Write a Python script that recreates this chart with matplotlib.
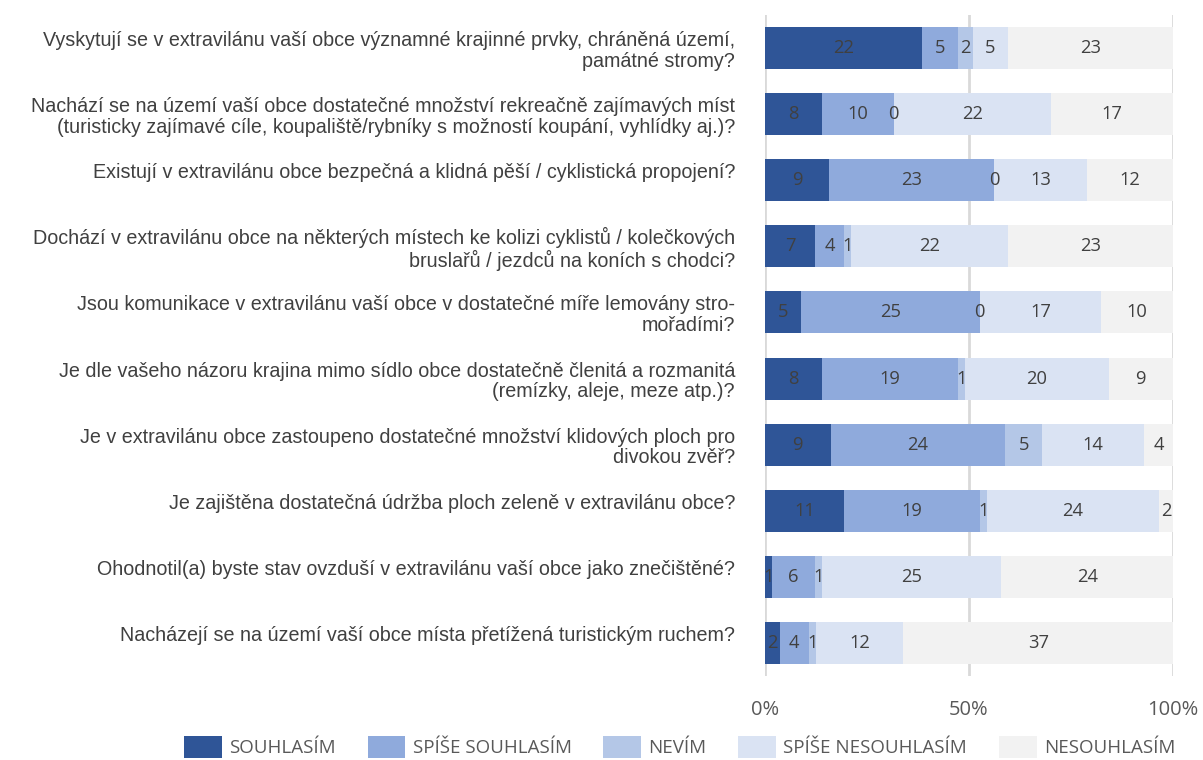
import numpy as np
import matplotlib
matplotlib.use("Agg")
import matplotlib.pyplot as plt
from matplotlib.patches import Patch

# otázky (shora dolů)
questions = [
    "Vyskytují se v extravilánu vaší obce významné krajinné prvky, chráněná území,\npamátné stromy?",
    "Nachází se na území vaší obce dostatečné množství rekreačně zajímavých míst\n(turisticky zajímavé cíle, koupaliště/rybníky s možností koupání, vyhlídky aj.)?",
    "Existují v extravilánu obce bezpečná a klidná pěší / cyklistická propojení?",
    "Dochází v extravilánu obce na některých místech ke kolizi cyklistů / kolečkových\nbruslařů / jezdců na koních s chodci?",
    "Jsou komunikace v extravilánu vaší obce v dostatečné míře lemovány stro-\nmořadími?",
    "Je dle vašeho názoru krajina mimo sídlo obce dostatečně členitá a rozmanitá\n(remízky, aleje, meze atp.)?",
    "Je v extravilánu obce zastoupeno dostatečné množství klidových ploch pro\ndivokou zvěř?",
    "Je zajištěna dostatečná údržba ploch zeleně v extravilánu obce?",
    "Ohodnotil(a) byste stav ovzduší v extravilánu vaší obce jako znečištěné?",
    "Nacházejí se na území vaší obce místa přetížená turistickým ruchem?",
]

souhlasim = [22, 8, 9, 7, 5, 8, 9, 11, 1, 2]
spise_souhlasim = [5, 10, 23, 4, 25, 19, 24, 19, 6, 4]
nevim = [2, 0, 0, 1, 0, 1, 5, 1, 1, 1]
spise_nesouhlasim = [5, 22, 13, 22, 17, 20, 14, 24, 25, 12]
nesouhlasim = [23, 17, 12, 23, 10, 9, 4, 2, 24, 37]

series_names = ["SOUHLASÍM", "SPÍŠE SOUHLASÍM", "NEVÍM", "SPÍŠE NESOUHLASÍM", "NESOUHLASÍM"]
colors = ["#2F5597", "#8FAADC", "#B4C7E7", "#DAE3F3", "#F2F2F2"]

label_font = ["Liberation Sans", "DejaVu Sans"]
num_font = ["Open Sans", "DejaVu Sans"]

data = np.array([souhlasim, spise_souhlasim, nevim, spise_nesouhlasim, nesouhlasim], dtype=float)
totals = data.sum(axis=0)
shares = data / totals

fig = plt.figure(figsize=(12.03, 7.6), dpi=100)
ax = fig.add_axes([0.6359, 0.1105, 0.3392, 0.8697])

y = np.arange(len(questions))
left = np.zeros(len(questions))
for k in range(len(series_names)):
    ax.barh(y, shares[k], left=left, height=0.635, color=colors[k],
            label=series_names[k], zorder=2)
    for i in range(len(questions)):
        ax.text(left[i] + shares[k][i] / 2, y[i], "%d" % data[k][i],
                ha="center", va="center", fontsize=13.2, color="#404040",
                family=num_font, zorder=3)
    left += shares[k]

ax.set_xlim(0, 1)
ax.set_ylim(len(questions) - 0.5, -0.5)
ax.set_xticks([0, 0.5, 1.0])
ax.set_xticklabels(["0%", "50%", "100%"], family=num_font, fontsize=14.5, color="#595959")
ax.grid(axis="x", color="#D9D9D9", linewidth=2, zorder=1)
for s in ax.spines.values():
    s.set_visible(False)
ax.tick_params(axis="x", length=0, pad=17)
ax.tick_params(axis="y", length=0, pad=21.6)

# jednořádkové popisky jsou v originále posunuté o půl řádku nahoru
ylabels = [q if "\n" in q else q + "\n" for q in questions]
ax.set_yticks(y)
ax.set_yticklabels(ylabels, family=label_font, fontsize=14.2, color="#404040",
                   ha="right", linespacing=1.1)

handles = [Patch(facecolor=c, edgecolor="none") for c in colors]
fig.legend(handles, series_names, loc="center", bbox_to_anchor=(0.565, 0.017),
           ncol=5, frameon=False, prop={"family": num_font, "size": 13.5},
           labelcolor="#595959", handlelength=2.0, handleheight=1.4,
           handletextpad=0.4, columnspacing=1.7)

fig.savefig("out.png", dpi=100)
